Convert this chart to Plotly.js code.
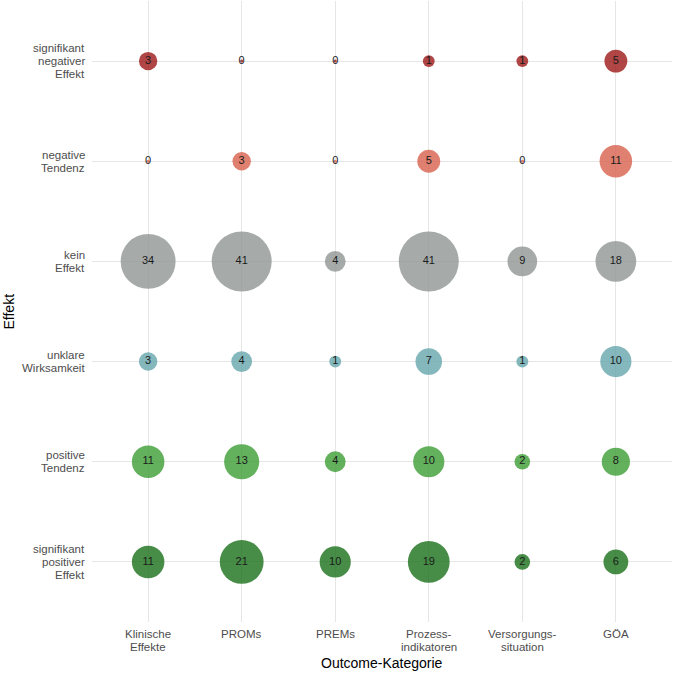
<!DOCTYPE html>
<html>
<head>
<meta charset="utf-8">
<script src="https://cdn.plot.ly/plotly-3.0.1.min.js"></script>
<style>html,body{margin:0;padding:0;background:#fff;}#chart{width:673px;height:673px;}</style>
</head>
<body>
<div id="chart"></div>
<script>
const outcomes = ["Klinische Effekte", "PROMs", "PREMs", "Prozessindikatoren", "Versorgungssituation", "GÖA"];
const outcomeLabels = [["Klinische", "Effekte"], ["PROMs"], ["PREMs"], ["Prozess-", "indikatoren"], ["Versorgungs-", "situation"], ["GÖA"]];
const effects = ["signifikant positiver Effekt", "positive Tendenz", "unklare Wirksamkeit", "kein Effekt", "negative Tendenz", "signifikant negativer Effekt"];
const effectLabels = [["signifikant", "positiver", "Effekt"], ["positive", "Tendenz"], ["unklare", "Wirksamkeit"], ["kein", "Effekt"], ["negative", "Tendenz"], ["signifikant", "negativer", "Effekt"]];
const sigPos  = [11, 21, 10, 19, 2, 6];
const posTend = [11, 13, 4, 10, 2, 8];
const unklar  = [3, 4, 1, 7, 1, 10];
const kein    = [34, 41, 4, 41, 9, 18];
const negTend = [0, 3, 0, 5, 0, 11];
const sigNeg  = [3, 0, 0, 1, 1, 5];
const colors = ["rgb(25,112,25)", "rgb(60,156,52)", "rgb(101,166,172)", "rgb(144,150,149)", "rgb(216,96,76)", "rgb(156,24,24)"];

const FONT = "Liberation Sans, Arial, sans-serif";
const rows = [sigPos, posTend, unklar, kein, negTend, sigNeg];
const maxVal = Math.max(...rows.flat());
const sizeOf = v => 3 + 57 * Math.sqrt(v / maxVal);

const traces = rows.map((vals, i) => ({
  type: "scatter",
  mode: "markers+text",
  x: outcomes,
  y: outcomes.map(() => effects[i]),
  text: vals.map(String),
  textposition: "middle center",
  textfont: {family: FONT, size: 11, color: "#1a1a1a"},
  marker: {size: vals.map(sizeOf), sizemode: "diameter", color: colors[i], opacity: 0.8, line: {width: 0}},
  cliponaxis: false,
  showlegend: false,
  hoverinfo: "x+y+text"
}));

const LH = 13;
const annotations = [];
outcomeLabels.forEach((lines, i) => {
  lines.forEach((ln, k) => {
    annotations.push({
      text: ln, xref: "x", x: i, yref: "paper", y: 0, yanchor: "top", xanchor: "center",
      yshift: -5 - k * LH, showarrow: false, borderpad: 0,
      font: {family: FONT, size: 11.5, color: "#4d4d4d"}
    });
  });
});
effectLabels.forEach((lines, i) => {
  const n = lines.length;
  lines.forEach((ln, k) => {
    annotations.push({
      text: ln, xref: "paper", x: 0, xanchor: "right", yref: "y", y: i, yanchor: "middle",
      xshift: -6, yshift: ((n - 1) / 2 - k) * LH, showarrow: false, borderpad: 0,
      font: {family: FONT, size: 11.5, color: "#4d4d4d"}
    });
  });
});
annotations.push({
  text: "Outcome-Kategorie", xref: "paper", x: 0.5, xanchor: "center", yref: "paper", y: 0,
  yanchor: "middle", yshift: -41, showarrow: false, borderpad: 0,
  font: {family: FONT, size: 14, color: "#000"}
});
annotations.push({
  text: "Effekt", xref: "paper", x: 0, xanchor: "center", xshift: -84, yref: "paper", y: 0.5,
  yanchor: "middle", textangle: -90, showarrow: false, borderpad: 0,
  font: {family: FONT, size: 14, color: "#000"}
});

const layout = {
  width: 673, height: 673,
  margin: {l: 92, r: 1, t: 1, b: 51},
  paper_bgcolor: "#fff", plot_bgcolor: "#fff",
  font: {family: FONT, color: "#4d4d4d", size: 12},
  xaxis: {
    type: "category", categoryorder: "array", categoryarray: outcomes,
    range: [-0.6, 5.6], showgrid: true, gridcolor: "#e6e6e6", gridwidth: 1,
    zeroline: false, showline: false, ticks: "", showticklabels: false
  },
  yaxis: {
    type: "category", categoryorder: "array", categoryarray: effects,
    range: [-0.6, 5.6], showgrid: true, gridcolor: "#e6e6e6", gridwidth: 1,
    zeroline: false, showline: false, ticks: "", showticklabels: false
  },
  annotations: annotations
};

Plotly.newPlot("chart", traces, layout, {displayModeBar: false, staticPlot: true});
</script>
</body>
</html>
